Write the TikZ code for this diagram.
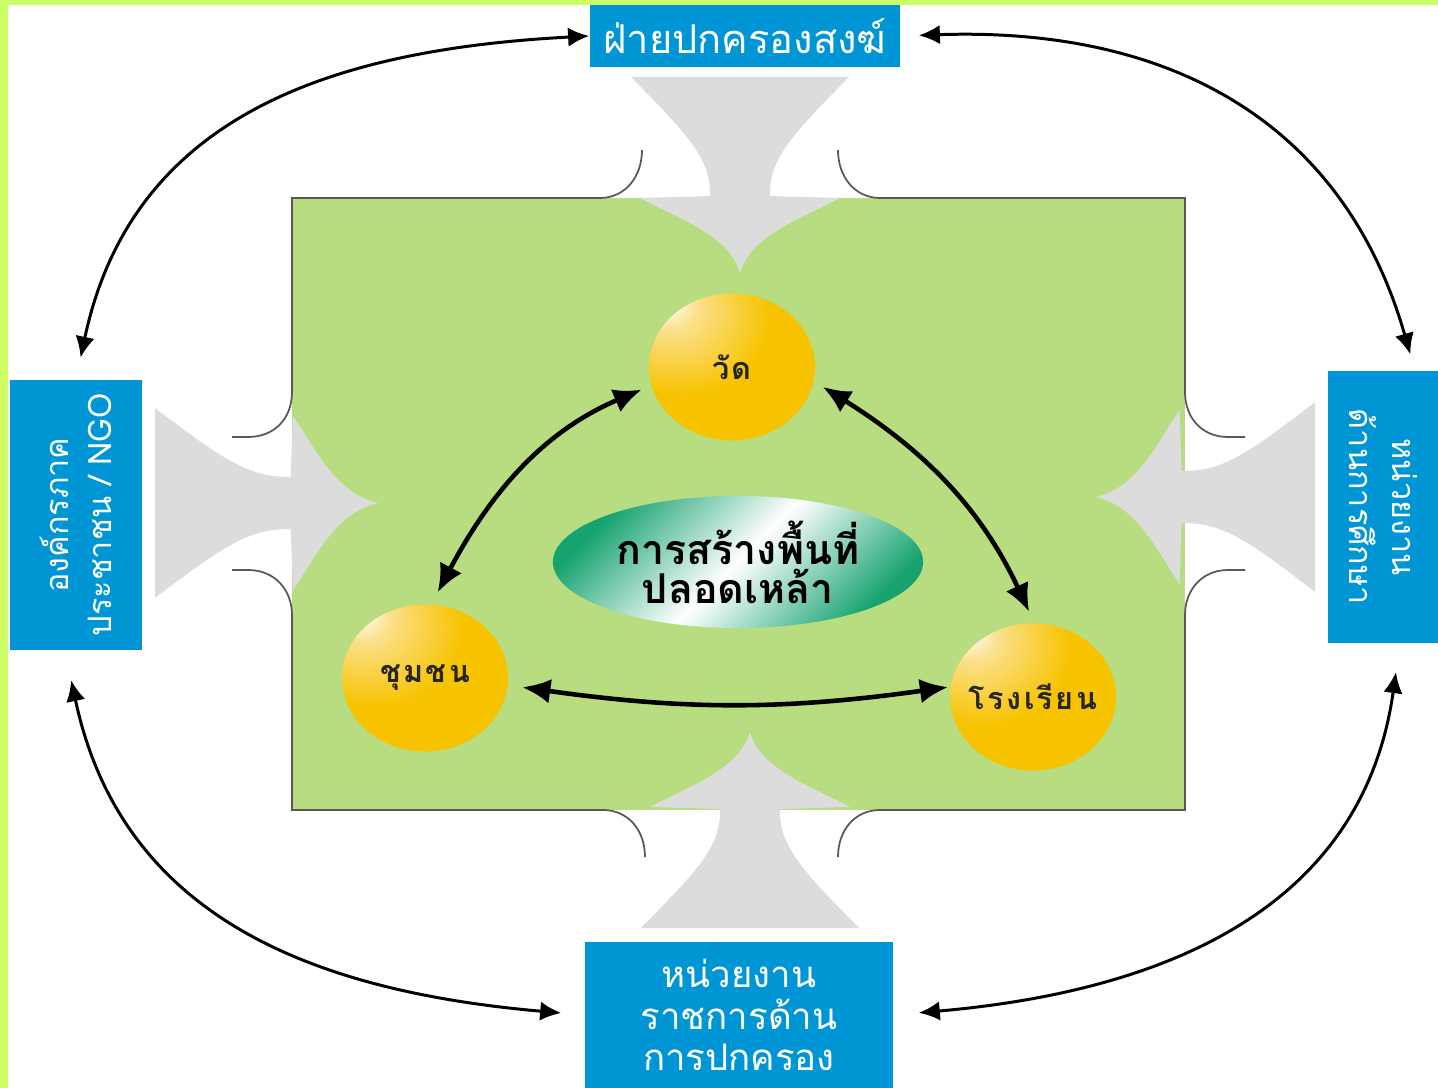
\documentclass[tikz,border=0pt]{standalone}
\usepackage{fontspec}
\usetikzlibrary{shapes.geometric,arrows.meta}
\newfontfamily\thaifont[Script=Thai]{Loma}
\newfontfamily\thaiwide[Script=Thai,LetterSpace=8]{Loma}
\definecolor{boxblue}{HTML}{0096D6}
\definecolor{leafgreen}{HTML}{B8DC80}
\definecolor{funnelgray}{HTML}{DCDCDC}
\definecolor{framegreen}{HTML}{CCFF66}
\definecolor{gold}{HTML}{F7C300}
\definecolor{goldlight}{HTML}{FBE08A}
\definecolor{hubgreen}{HTML}{16A370}
\pgfdeclareradialshading{goldball}{\pgfpoint{-20bp}{22bp}}{color(0bp)=(white); color(8bp)=(goldlight); color(26bp)=(gold); color(100bp)=(gold)}

\def\boxfont{\thaifont\lineskiplimit=-\maxdimen}
\def\hubfont{\thaifont\bfseries\fontsize{11.7}{11.2}\selectfont\lineskiplimit=-\maxdimen}
\def\funnel#1{
  \begin{scope}[#1]
    \fill[funnelgray] (-109,0) -- (109,0) .. controls (55,55) and (30,80) .. (30,116) -- (30,119) -- (100,121)
      .. controls (65,140) and (10,158) .. (0,196) .. controls (-10,158) and (-65,140) .. (-100,121)
      -- (-30,119) -- (-30,116) .. controls (-30,80) and (-55,55) .. (-109,0) -- cycle;
  \end{scope}
}
\tikzset{
  unitbox/.style={fill=boxblue,text=white,align=center,inner sep=0pt},
  sphere/.style={ellipse,shading=goldball,minimum width=1.66cm,minimum height=1.47cm,inner xsep=-0.2cm,inner ysep=0pt,
    font=\thaiwide\bfseries\fontsize{8.7}{11}\selectfont,text=black!85},
  hub/.style={ellipse,top color=hubgreen,bottom color=hubgreen,middle color=white,shading angle=45,
    minimum width=3.70cm,minimum height=1.32cm,inner sep=0pt,align=center,font=\hubfont},
  linkarrow/.style={{Latex[length=8pt,width=7pt]}-{Latex[length=8pt,width=7pt]},line width=1.3pt},
  bondarrow/.style={{Latex[length=6pt,width=5.5pt]}-{Latex[length=6pt,width=5.5pt]},line width=0.85pt},
  rim/.style={draw=black!65,line width=0.5pt}
}

\begin{document}
\begin{tikzpicture}[x=0.01cm,y=-0.01cm]
  \useasboundingbox (0,0) rectangle (1438,1088);
  \fill[white] (0,0) rectangle (1438,1088);
  \fill[framegreen] (0,0) rectangle (1438,5);
  \fill[framegreen] (0,0) rectangle (8,1088);
  \fill[leafgreen] (292,198) rectangle (1185,810);

  \funnel{shift={(740,77)}}
  \funnel{shift={(155,503)},rotate=90,xscale=.87,yscale=1.14}
  \funnel{shift={(1315,497)},rotate=-90,xscale=.87,yscale=1.12}
  \funnel{shift={(750,928)},rotate=180}

  \draw[rim] (232,437) -- (248,437) .. controls (275,437) and (292,418) .. (292,392) -- (292,198) -- (600,198) .. controls (625,198) and (642,177) .. (642,150);
  \draw[rim] (838,150) .. controls (838,177) and (855,198) .. (880,198) -- (1185,198) -- (1185,392) .. controls (1185,418) and (1202,437) .. (1228,437) -- (1245,437);
  \draw[rim] (1245,570) -- (1228,570) .. controls (1202,570) and (1185,590) .. (1185,615) -- (1185,810) -- (880,810) .. controls (855,810) and (838,830) .. (838,857);
  \draw[rim] (645,857) .. controls (645,830) and (628,810) .. (603,810) -- (292,810) -- (292,615) .. controls (292,590) and (275,570) .. (248,570) -- (232,570);

  \node[unitbox,minimum width=3.10cm,minimum height=0.62cm,font={\boxfont\fontsize{11.3}{13}\selectfont}] (sangha) at (745,36) {ฝ่ายปกครองสงฆ์};
  \node[unitbox,minimum width=1.32cm,minimum height=2.70cm,font={\boxfont\fontsize{9.2}{12.2}\selectfont}] (ngo) at (76,515)
    {\rotatebox{90}{\parbox{2.5cm}{\centering องค์กรภาค\\ประชาชน / NGO}}};
  \node[unitbox,minimum width=1.10cm,minimum height=2.71cm,font={\boxfont\fontsize{9.2}{12.2}\selectfont}] (edu) at (1383,507)
    {\rotatebox{-90}{\parbox{2.5cm}{\centering หน่วยงาน\\ด้านการศึกษา}}};
  \node[unitbox,minimum width=3.08cm,minimum height=1.46cm,font={\boxfont\fontsize{10.4}{11.7}\selectfont}] (gov) at (739,1015) {หน่วยงาน\\ราชการด้าน\\การปกครอง};

  \node[sphere] (temple) at (732,367) {วัด};
  \node[sphere] (community) at (425,678) {ชุมชน};
  \node[sphere] (school) at (1033,697) {โรงเรียน};
  \node[hub] (hub) at (738,562) {การสร้างพื้นที่\\ปลอดเหล้า};

  \draw[linkarrow,shorten <=0.13cm,shorten >=0.1cm] (community.85) to[out=62,in=203] (temple.193);
  \draw[linkarrow,shorten <=0.1cm,shorten >=0.12cm] (temple.350) to[out=-32,in=115] (school.89);
  \draw[linkarrow,shorten <=0.14cm,shorten >=0.02cm] (community.355) to[out=-8,in=188] (school.173);

  \draw[bondarrow,shorten <=0.22cm] (ngo.north) to[out=78,in=183,looseness=1.1] (sangha.west);
  \draw[bondarrow,shorten <=0.18cm,shorten >=0.17cm] (sangha.east) to[out=2,in=106,looseness=1.1] ([xshift=0.32cm]edu.north);
  \draw[bondarrow,shorten <=0.3cm,shorten >=0.23cm] ([xshift=-0.11cm]ngo.south) to[out=-78,in=175,looseness=1.1] (gov.west);
  \draw[bondarrow,shorten <=0.29cm,shorten >=0.25cm] ([xshift=0.17cm]edu.south) to[out=-98,in=5,looseness=1.1] (gov.east);
\end{tikzpicture}
\end{document}
